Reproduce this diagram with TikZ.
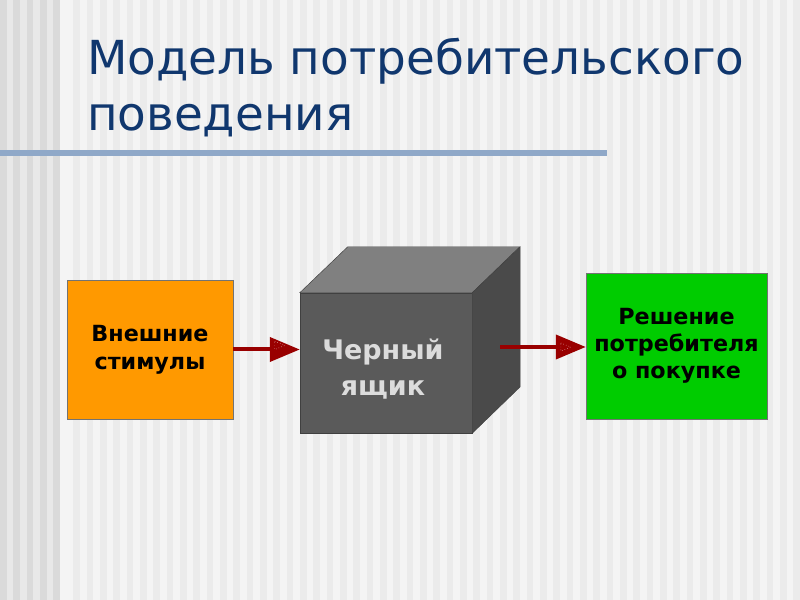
\documentclass[tikz,border=0pt]{standalone}
\usepackage{fontspec}
\setmainfont{DejaVu Sans}
\usetikzlibrary{arrows.meta,positioning}

\definecolor{titleblue}{RGB}{16,55,110}
\definecolor{ruleblue}{RGB}{143,168,200}
\definecolor{stimorange}{RGB}{255,153,0}
\definecolor{buygreen}{RGB}{0,204,0}
\definecolor{arrowred}{RGB}{153,0,0}
\definecolor{cubefront}{RGB}{90,90,90}
\definecolor{cubetop}{RGB}{128,128,128}
\definecolor{cubeside}{RGB}{74,74,74}
\definecolor{cubetext}{RGB}{220,220,220}
\definecolor{bgleft}{RGB}{232,232,232}
\definecolor{bgleftdark}{RGB}{218,218,218}
\definecolor{bgright}{RGB}{244,244,244}
\definecolor{bgrightdark}{RGB}{235,235,235}

\tikzset{
  blockbox/.style={draw=black!55, align=center, text=black,
    font=\bfseries\fontsize{19}{24}\selectfont},
  cubeface/.style={draw=black!75, fill=cubefront,
    minimum width=5.16cm, minimum height=4.2cm},
  flowarrow/.style={draw=arrowred, line width=0.12cm,
    -{Triangle[length=0.9cm,width=0.72cm]}},
  headmark/.style={draw=white, line width=0.4pt, dotted}
}

\begin{document}
\begin{tikzpicture}[x=0.03cm,y=-0.03cm]
\useasboundingbox (0,0) rectangle (800,600);
% background stripes
\fill[bgright] (0,0) rectangle (800,600);
\fill[bgleft] (0,0) rectangle (60,600);
\foreach \i in {0,...,59} {
  \pgfmathsetmacro{\sx}{\i*13.333}
  \ifdim\sx pt<55pt
    \fill[bgleftdark] (\sx,0) rectangle ++(6.667,600);
  \else
    \fill[bgrightdark] (\sx+6.667,0) rectangle ++(6.667,600);
  \fi
}

% title
\node[anchor=base west, inner sep=0, text=titleblue,
  font=\fontsize{40}{48}\selectfont] (title1) at (87,75) {Модель потребительского};
\node[anchor=base west, inner sep=0, text=titleblue,
  font=\fontsize{40}{48}\selectfont] (title2) at (87,131) {поведения};
\fill[ruleblue] (0,150) rectangle (607,156);

% blocks
\node[blockbox, fill=stimorange, minimum width=4.98cm, minimum height=4.17cm]
  (stimuli) at (150,349.5) {Внешние\\стимулы};
\node[cubeface] (box) at (386,363) {};
\node[text=cubetext, align=center, font=\bfseries\fontsize{23}{30}\selectfont]
  (boxlabel) at (383,369) {Черный\\ящик};
\node[blockbox, fill=buygreen, minimum width=5.43cm, minimum height=4.38cm,
  font=\bfseries\fontsize{19}{23}\selectfont]
  (decision) at (676.5,346) {Решение\\потребителя\\о покупке};

% cube faces
\filldraw[fill=cubetop, draw=black!75] (box.north west) -- ++(48,-46) -- ++(172,0)
  -- (box.north east) -- cycle;
\filldraw[fill=cubeside, draw=black!75] (box.north east) -- ++(48,-46) -- ++(0,140)
  -- (box.south east) -- cycle;

% arrows
\coordinate (boxout) at (500,347);
\draw[flowarrow] (stimuli.east) -- (stimuli.east -| box.west);
\draw[flowarrow] (boxout) -- (boxout -| decision.west);
\draw[headmark] ([xshift=0.15cm,yshift=0.12cm]stimuli.east -| box.west) ++(-30,-4)
  -- ++(10,4) -- ++(-10,4) -- cycle;
\draw[headmark] ([xshift=0.15cm]boxout -| decision.west) ++(-30,-4)
  -- ++(10,4) -- ++(-10,4) -- cycle;

\end{tikzpicture}
\end{document}
